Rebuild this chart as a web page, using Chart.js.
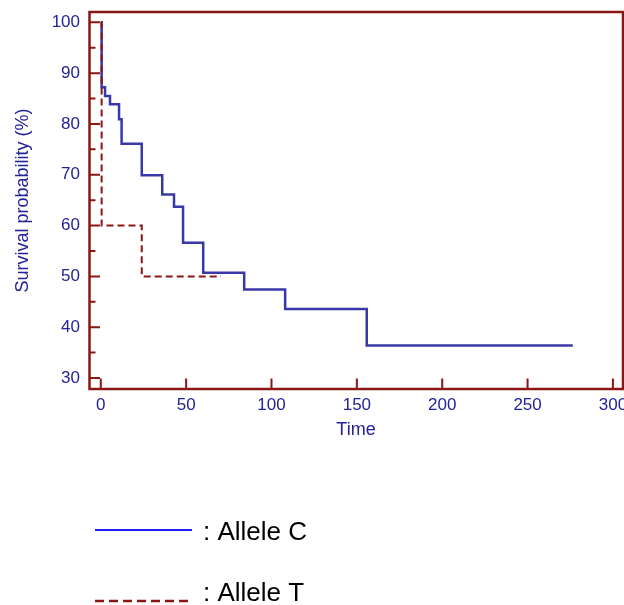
<!DOCTYPE html>
<html><head><meta charset="utf-8">
<script src="https://cdn.jsdelivr.net/npm/chart.js@4"></script>
<style>html,body{margin:0;padding:0;background:#fff;overflow:hidden;}</style>
</head><body>
<canvas id="c" width="624" height="605" style="display:block"></canvas>
<script>
// ---- data ----
const seriesNames = ['Allele C', 'Allele T'];
const timeC = [0, 0.5, 2.5, 5.4, 10.7, 12.2, 24, 36, 42.9, 48.2, 60, 84, 108, 155.8, 276.5];
const survC = [100, 87.2, 85.5, 83.9, 80.9, 76.1, 69.9, 66.1, 63.7, 56.6, 50.7, 47.4, 43.6, 36.4, 36.4];
const timeT = [0, 0.5, 24, 70.4];
const survT = [100, 60, 50, 50];
const xTicks = [0, 50, 100, 150, 200, 250, 300];
const yTicks = [30, 40, 50, 60, 70, 80, 90, 100];
const yMinorTicks = [35, 45, 55, 65, 75, 85, 95];
const xTitle = 'Time';
const yTitle = 'Survival probability (%)';

const toPts = (xs, ys) => xs.map((t, i) => ({x: t, y: ys[i]}));

const FONT = "'Liberation Sans', Arial, sans-serif";
const LABEL_COLOR = '#222299';
const FRAME_COLOR = '#8b1616';

const framePlugin = {
  id: 'frameTicks',
  afterDatasetsDraw(chart) {
    const {ctx, chartArea: a, scales: {x, y}} = chart;
    ctx.save();
    ctx.strokeStyle = FRAME_COLOR;
    ctx.lineWidth = 2;
    ctx.beginPath();
    yTicks.forEach(v => { const p = y.getPixelForValue(v); ctx.moveTo(a.left, p); ctx.lineTo(a.left + 11, p); });
    yMinorTicks.forEach(v => { const p = y.getPixelForValue(v); ctx.moveTo(a.left, p); ctx.lineTo(a.left + 6.5, p); });
    xTicks.forEach(v => { const p = x.getPixelForValue(v); ctx.moveTo(p, a.bottom); ctx.lineTo(p, a.bottom - 10.5); });
    ctx.stroke();
    ctx.lineWidth = 2.5;
    ctx.strokeRect(a.left + 0.5, a.top, a.right - a.left - 0.5, a.bottom - a.top);
    ctx.restore();
  }
};

const legendPlugin = {
  id: 'stackLegend',
  afterDraw(chart, args, opts) {
    const {ctx} = chart;
    ctx.save();
    chart.data.datasets.forEach((ds, i) => {
      const it = opts.items[i];
      ctx.beginPath();
      ctx.strokeStyle = it.color;
      ctx.lineWidth = it.width;
      ctx.setLineDash(it.dash);
      ctx.moveTo(it.x0, it.y);
      ctx.lineTo(it.x1, it.y);
      ctx.stroke();
      ctx.setLineDash([]);
      ctx.fillStyle = '#000';
      ctx.font = '26px ' + FONT;
      ctx.textBaseline = 'middle';
      ctx.textAlign = 'left';
      ctx.fillText(': ' + ds.label, it.tx, it.ty);
    });
    ctx.restore();
  }
};

new Chart(document.getElementById('c'), {
  type: 'line',
  data: {
    datasets: [
      {label: seriesNames[0], data: toPts(timeC, survC), stepped: 'before',
       borderColor: '#3838a8', borderWidth: 2.5, pointRadius: 0, fill: false, order: 2},
      {label: seriesNames[1], data: toPts(timeT, survT), stepped: 'before',
       borderColor: '#8b1616', borderWidth: 2, borderDash: [7, 4], pointRadius: 0, fill: false, order: 1}
    ]
  },
  options: {
    responsive: false,
    animation: false,
    devicePixelRatio: 1,
    layout: {autoPadding: false, padding: {left: 0, right: 1, top: 12, bottom: 156}},
    plugins: {
      legend: {display: false},
      tooltip: {enabled: false},
      stackLegend: {items: [
        {x0: 95, x1: 192, y: 530, color: '#1e1eff', width: 2, dash: [], tx: 203, ty: 533},
        {x0: 95, x1: 189, y: 601, color: '#8b1616', width: 2.5, dash: [9, 5], tx: 203, ty: 594}
      ]}
    },
    scales: {
      x: {
        type: 'linear', min: -6.9, max: 305.9,
        afterBuildTicks: s => { s.ticks = xTicks.map(v => ({value: v})); },
        afterFit: s => { s.height = 60; s.paddingLeft = 0; s.paddingRight = 0; },
        grid: {display: false, drawTicks: false},
        border: {display: false},
        ticks: {color: LABEL_COLOR, font: {family: FONT, size: 17}, padding: 6, maxRotation: 0, autoSkip: false},
        title: {display: true, text: xTitle, color: LABEL_COLOR, font: {family: FONT, size: 18}, padding: {top: 0, bottom: 8}}
      },
      y: {
        type: 'linear', min: 27.84, max: 102.03,
        afterBuildTicks: s => { s.ticks = yTicks.map(v => ({value: v})); },
        afterFit: s => { s.width = 89; s.paddingTop = 0; s.paddingBottom = 0; },
        grid: {display: false, drawTicks: false},
        border: {display: false},
        ticks: {color: LABEL_COLOR, font: {family: FONT, size: 17}, padding: 9, autoSkip: false},
        title: {display: true, text: yTitle, color: LABEL_COLOR, font: {family: FONT, size: 18}, padding: {top: 12, bottom: 0}}
      }
    }
  },
  plugins: [framePlugin, legendPlugin]
});
</script>
</body></html>
